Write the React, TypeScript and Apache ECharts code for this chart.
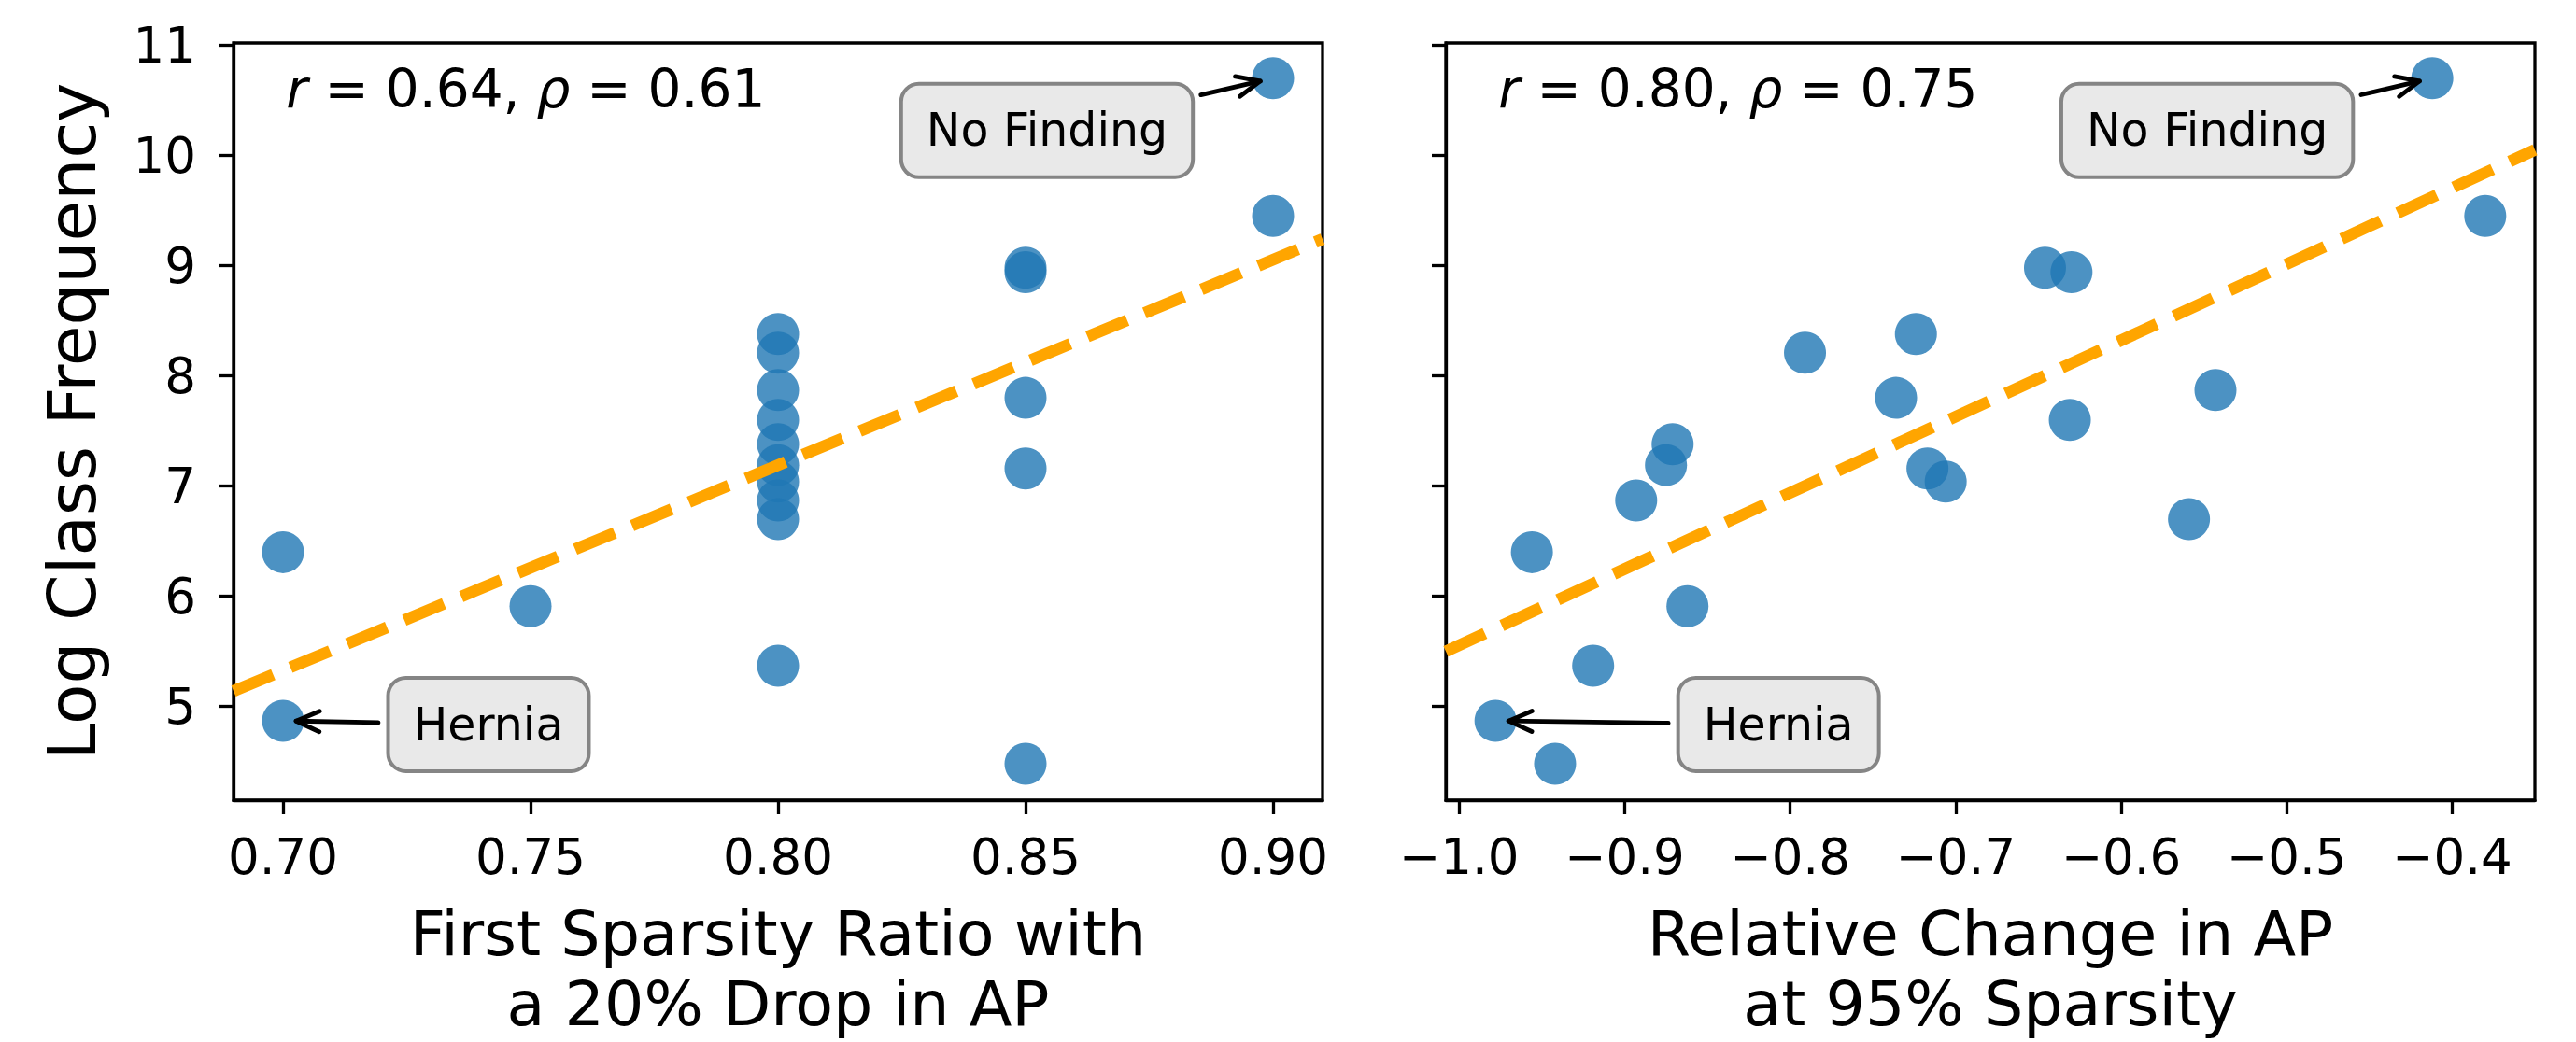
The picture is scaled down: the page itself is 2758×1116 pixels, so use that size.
import React, { useEffect, useRef } from "react";
import * as echarts from "echarts";

// ---- data ----
const classNames = [
  "No Finding", "p2", "p3", "p4", "p5", "p6", "p7", "p8", "p9", "p10",
  "p11", "p12", "p13", "p14", "p15", "p16", "p17", "p18", "Hernia", "p20",
];
const logClassFrequency = [
  10.70, 9.45, 8.98, 8.94, 8.38, 8.21, 7.87, 7.80, 7.60, 7.38,
  7.19, 7.16, 7.04, 6.87, 6.70, 6.40, 5.91, 5.37, 4.87, 4.48,
];
const firstSparsityRatio = [
  0.90, 0.90, 0.85, 0.85, 0.80, 0.80, 0.80, 0.85, 0.80, 0.80,
  0.80, 0.85, 0.80, 0.80, 0.80, 0.70, 0.75, 0.80, 0.70, 0.85,
];
const relativeChangeAP = [
  -0.412, -0.380, -0.646, -0.630, -0.724, -0.791, -0.543, -0.736, -0.631, -0.871,
  -0.875, -0.717, -0.706, -0.893, -0.559, -0.956, -0.862, -0.919, -0.978, -0.942,
];
const fitLeftX = [0.69, 0.91];
const fitLeftY = [5.14, 9.24];
const fitRightX = [-1.008, -0.35];
const fitRightY = [5.5, 10.05];
const xTicksLeft = [0.7, 0.75, 0.8, 0.85, 0.9];
const xTicksRight = [-1.0, -0.9, -0.8, -0.7, -0.6, -0.5, -0.4];
const yTicks = [5, 6, 7, 8, 9, 10, 11];
const statsLeft = ["0.64", "0.61"];
const statsRight = ["0.80", "0.75"];
const annotatedNames = ["No Finding", "Hernia"];

// ---- layout / style ----
const W = 2758;
const H = 1116;
const FONT = "DejaVu Sans";
const G0 = { left: 250, top: 46, width: 1166, height: 811 };
const G1 = { left: 1548, top: 46, width: 1166, height: 811 };
const Y_MIN = 4.15;
const Y_MAX = 11.02;
const SPINE = 3.3;
const annotLayout: Record<string, { off: [number, number][]; hw: number; hh: number }> = {
  "No Finding": { off: [[-242, 56], [-241, 56]], hw: 156, hh: 49.5 },
  Hernia: { off: [[220, 4], [303, 4]], hw: 109, hh: 50.5 },
};

function fmtMinus(v: number, d: number) {
  const s = Math.abs(v).toFixed(d);
  return v < -1e-9 ? "\u2212" + s : s;
}

function axisCommon(ticks: number[], showLabels: boolean, fmt: (v: number) => string) {
  return {
    axisLine: { show: true, onZero: false, lineStyle: { color: "#000", width: SPINE } },
    axisTick: {
      show: true,
      length: 15,
      inside: false,
      lineStyle: { color: "#000", width: SPINE },
      customValues: ticks,
    },
    axisLabel: {
      show: showLabels,
      customValues: ticks,
      color: "#000",
      fontSize: 53,
      fontFamily: FONT,
      formatter: (v: number) => fmt(v),
    },
    splitLine: { show: false },
  };
}

export default function App() {
  const ref = useRef<HTMLDivElement>(null);
  useEffect(() => {
    if (!ref.current) return;
    const chart = echarts.init(ref.current, undefined, { renderer: "svg" });
    const leftPts = firstSparsityRatio.map((x, i) => [x, logClassFrequency[i]]);
    const rightPts = relativeChangeAP.map((x, i) => [x, logClassFrequency[i]]);
    const grid = (g: typeof G0) => ({
      left: g.left,
      top: g.top,
      width: g.width,
      height: g.height,
      show: true,
      borderColor: "#000",
      borderWidth: SPINE,
      backgroundColor: "transparent",
      containLabel: false,
    });
    chart.setOption({
      animation: false,
      backgroundColor: "#fff",
      textStyle: { fontFamily: FONT },
      grid: [grid(G0), grid(G1)],
      xAxis: [
        {
          type: "value",
          gridIndex: 0,
          min: 0.69,
          max: 0.91,
          ...axisCommon(xTicksLeft, true, (v) => v.toFixed(2)),
        },
        {
          type: "value",
          gridIndex: 1,
          min: -1.008,
          max: -0.35,
          ...axisCommon(xTicksRight, true, (v) => fmtMinus(v, 1)),
        },
      ].map((a) => ({ ...a, axisLabel: { ...a.axisLabel, margin: 34 } })),
      yAxis: [
        {
          type: "value",
          gridIndex: 0,
          min: Y_MIN,
          max: Y_MAX,
          ...axisCommon(yTicks, true, (v) => String(Math.round(v))),
        },
        {
          type: "value",
          gridIndex: 1,
          min: Y_MIN,
          max: Y_MAX,
          ...axisCommon(yTicks, false, (v) => String(Math.round(v))),
        },
      ].map((a) => ({ ...a, axisLabel: { ...a.axisLabel, margin: 40 } })),
      series: [
        {
          type: "scatter",
          xAxisIndex: 0,
          yAxisIndex: 0,
          data: leftPts,
          symbolSize: 45,
          itemStyle: { color: "#1f77b4", opacity: 0.8 },
          z: 2,
        },
        {
          type: "scatter",
          xAxisIndex: 1,
          yAxisIndex: 1,
          data: rightPts,
          symbolSize: 45,
          itemStyle: { color: "#1f77b4", opacity: 0.8 },
          z: 2,
        },
        {
          type: "line",
          xAxisIndex: 0,
          yAxisIndex: 0,
          data: fitLeftX.map((x, i) => [x, fitLeftY[i]]),
          symbol: "none",
          lineStyle: { color: "#ffa500", width: 12.5, type: [46, 20], cap: "butt" },
          z: 3,
        },
        {
          type: "line",
          xAxisIndex: 1,
          yAxisIndex: 1,
          data: fitRightX.map((x, i) => [x, fitRightY[i]]),
          symbol: "none",
          lineStyle: { color: "#ffa500", width: 12.5, type: [46, 20], cap: "butt" },
          z: 3,
        },
      ],
    });

    const graphics: any[] = [];
    // stats texts
    const stats = [statsLeft, statsRight];
    [G0, G1].forEach((g, gi) => {
      graphics.push({
        type: "text",
        x: g.left + 0.05 * g.width - 2,
        y: 95,
        z: 200,
        style: {
          text: `{i|r} = ${stats[gi][0]}, {i|\u03c1} = ${stats[gi][1]}`,
          fontSize: 56.5,
          fontFamily: FONT,
          fill: "#000",
          align: "left",
          verticalAlign: "middle",
          rich: { i: { fontStyle: "italic", fontSize: 56.5, fontFamily: FONT, fill: "#000" } },
        },
      });
    });
    // annotations
    const ptsSets = [leftPts, rightPts];
    annotatedNames.forEach((name) => {
      const idx = classNames.indexOf(name);
      const lay = annotLayout[name];
      [0, 1].forEach((gi) => {
        const p = chart.convertToPixel({ seriesIndex: gi }, ptsSets[gi][idx]) as number[];
        const cx = p[0] + lay.off[gi][0];
        const cy = p[1] + lay.off[gi][1];
        const dx = p[0] - cx;
        const dy = p[1] - cy;
        const L = Math.hypot(dx, dy);
        const ux = dx / L;
        const uy = dy / L;
        const tEdge = Math.min(
          Math.abs(ux) > 1e-6 ? lay.hw / Math.abs(ux) : 1e9,
          Math.abs(uy) > 1e-6 ? lay.hh / Math.abs(uy) : 1e9
        );
        const sx = cx + ux * (tEdge + 9);
        const sy = cy + uy * (tEdge + 9);
        const tx = p[0] - ux * 14;
        const ty = p[1] - uy * 14;
        const bx = tx - ux * 25;
        const by = ty - uy * 25;
        const px = -uy;
        const py = ux;
        const arrowStyle = { stroke: "#000", lineWidth: 4.8, lineCap: "round", lineJoin: "round", fill: null };
        graphics.push({
          type: "line",
          z: 150,
          shape: { x1: sx, y1: sy, x2: tx, y2: ty },
          style: arrowStyle,
        });
        graphics.push({
          type: "polyline",
          z: 150,
          shape: {
            points: [
              [bx + px * 11, by + py * 11],
              [tx, ty],
              [bx - px * 11, by - py * 11],
            ],
          },
          style: arrowStyle,
        });
        graphics.push({
          type: "text",
          x: cx,
          y: cy,
          z: 160,
          style: {
            text: name,
            fontSize: 49,
            fontFamily: FONT,
            fill: "#000",
            align: "center",
            verticalAlign: "middle",
            lineHeight: 56,
            backgroundColor: "#e9e9e9",
            borderColor: "#858585",
            borderWidth: 4,
            borderRadius: 17,
            padding: [15, 25, 25, 25],
          },
        });
      });
    });
    // axis titles
    graphics.push({
      type: "text",
      x: 77,
      y: G0.top + G0.height / 2,
      rotation: Math.PI / 2,
      style: {
        text: "Log Class Frequency",
        fontSize: 71,
        fontFamily: FONT,
        fill: "#000",
        align: "center",
        verticalAlign: "middle",
      },
    });
    const xTitles = [
      ["First Sparsity Ratio with", "a 20% Drop in AP"],
      ["Relative Change in AP", "at 95% Sparsity"],
    ];
    [G0, G1].forEach((g, gi) => {
      xTitles[gi].forEach((t, li) => {
        graphics.push({
          type: "text",
          x: g.left + g.width / 2,
          y: 1000 + li * 75,
          style: {
            text: t,
            fontSize: 66.7,
            fontFamily: FONT,
            fill: "#000",
            align: "center",
            verticalAlign: "middle",
          },
        });
      });
    });
    chart.setOption({ graphic: graphics });
    return () => chart.dispose();
  }, []);
  return (
    <div
      ref={ref}
      style={{ position: "absolute", left: 0, top: 0, width: W, height: H, background: "#fff" }}
    />
  );
}
